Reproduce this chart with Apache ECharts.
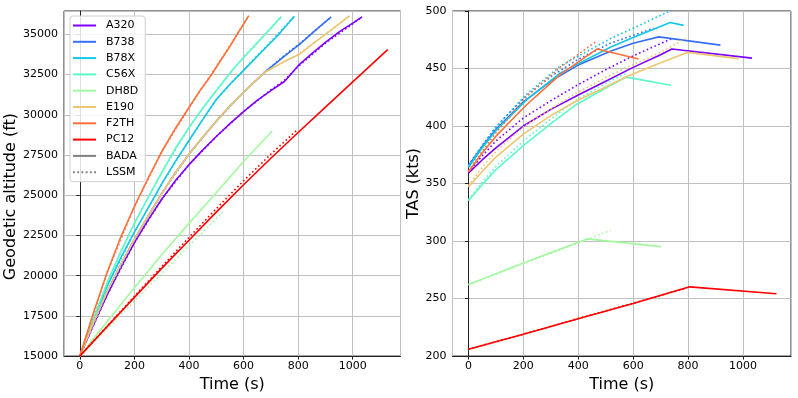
<!DOCTYPE html>
<html><head><meta charset="utf-8">
<script src="https://cdn.jsdelivr.net/npm/echarts/dist/echarts.min.js"></script>
<style>html,body{margin:0;padding:0;background:#fff}#c{width:798px;height:398px}</style>
</head><body><div id="c"></div>
<script>
// ---------- names & colours ----------
const aircraft = ['A320','B738','B78X','C56X','DH8D','E190','F2TH','PC12'];
const colors = ['#8000ff','#376ff9','#12c7e6','#5bf9c7','#a4f99f','#edc76f','#ff6f39','#ff0000'];

// ---------- altitude (ft) vs time (s), BADA ----------
const A320_alt_t = [0,50,100,150,200,250,300,350,400,450,500,550,600,650,700,750,800,850,900,950,1000,1034];
const A320_alt   = [15000,16950,18800,20500,22050,23450,24750,25900,26900,27800,28650,29450,30200,30900,31500,32070,33050,33800,34500,35150,35700,36080];
const B738_alt_t = [0,50,100,150,200,250,300,350,400,450,500,550,600,650,677,750,805,860,921];
const B738_alt   = [15000,17100,19000,20700,22250,23700,25100,26400,27550,28600,29600,30550,31400,32200,32630,33650,34380,35200,36080];
const B78X_alt_t = [0,50,100,150,200,250,300,350,400,450,500,550,600,650,700,731,786];
const B78X_alt   = [15000,17300,19350,21100,22700,24200,25700,27100,28400,29700,30950,31900,32760,33630,34490,35030,36120];
const C56X_alt_t = [0,50,100,150,200,250,300,350,400,450,500,560,600,650,700,738];
const C56X_alt   = [15000,17350,19550,21500,23250,24850,26400,27900,29200,30400,31500,32800,33540,34460,35380,36100];
const DH8D_alt_t = [0,100,200,300,400,500,600,705];
const DH8D_alt   = [15000,17150,19250,21300,23250,25150,27100,28990];
const E190_alt_t = [0,50,100,150,200,250,300,350,400,450,500,550,600,650,677,720,760,805,870,930,988];
const E190_alt   = [15000,17100,19000,20700,22250,23700,25100,26400,27550,28600,29600,30550,31400,32200,32630,33050,33400,33760,34620,35390,36140];
const F2TH_alt_t = [0,50,100,150,200,250,300,350,400,440,475,550,619];
const F2TH_alt   = [15000,17700,20200,22400,24300,26050,27700,29150,30450,31500,32300,34250,36160];
const PC12_alt_t = [0,100,200,300,400,500,600,700,800,900,1000,1128];
const PC12_alt   = [15000,16830,18650,20450,22200,23950,25650,27300,28900,30480,32040,34050];

// ---------- altitude, LSSM ----------
const A320_altL_t = [0,100,200,300,400,500,600,700,750,800,900,1000,1034];
const A320_altL   = [15000,18800,22050,24750,26900,28650,30200,31550,32150,33000,34450,35650,36080];
const B738_altL_t = [0,100,200,300,400,500,600,677,750,805,921];
const B738_altL   = [15000,19000,22250,25100,27550,29600,31400,32650,33700,34420,36080];
const B78X_altL_t = [0,100,200,300,400,500,600,700,786];
const B78X_altL   = [15000,19350,22700,25700,28400,30950,32800,34550,36120];
const C56X_altL_t = [0,100,200,300,400,500,600,700,738];
const C56X_altL   = [15000,19550,23250,26400,29200,31550,33600,35400,36100];
const DH8D_altL_t = [0,100,200,300,400,524];
const DH8D_altL   = [15000,16700,18420,20130,21850,23950];
const E190_altL_t = [0,100,200,300,400,500,600,677,805,988];
const E190_altL   = [15000,19000,22250,25100,27550,29600,31400,32650,33800,36140];
const F2TH_altL_t = [0,100,200,300,400,475,550,619];
const F2TH_altL   = [15000,20200,24300,27700,30450,32350,34300,36160];
const PC12_altL_t = [0,100,200,300,400,500,600,700,795];
const PC12_altL   = [15000,16870,18720,20560,22380,24160,25900,27550,29040];

// ---------- TAS (kts) vs time (s), BADA ----------
const A320_tas_t = [0,50,100,200,300,400,500,600,700,741,1033];
const A320_tas   = [359,370.5,381,400,414.5,427,439,451,462,467,459];
const B738_tas_t = [0,50,100,200,300,400,517,600,693,918];
const B738_tas   = [365.5,382,397,421,439,453,465,472,477.5,470.3];
const B78X_tas_t = [0,50,100,213,334,517,600,735,784];
const B78X_tas   = [364,381,396,423,446,468.5,477,490,487.5];
const C56X_tas_t = [0,50,100,200,300,395,500,575,738];
const C56X_tas   = [335,349,362,383,402,419,433,442.5,435.5];
const DH8D_tas_t = [0,200,432,702];
const DH8D_tas   = [262.2,281,301.9,295.2];
const E190_tas_t = [0,50,100,200,300,395,500,577,700,798,984];
const E190_tas   = [347,360.5,373,393,409,422,434,443,455,464,458.6];
const F2TH_tas_t = [0,50,100,150,213,334,469,620];
const F2TH_tas   = [360,376.5,391,403.5,418.7,444.7,467,458.3];
const PC12_tas_t = [0,200,400,600,806,1122];
const PC12_tas   = [206,219,232.5,245.8,260.2,254.2];

// ---------- TAS, LSSM ----------
const A320_tasL_t = [0,50,100,200,300,400,500,600,741];
const A320_tasL   = [360,374,387,407,422,436,449,461,476];
const B738_tasL_t = [0,50,100,200,300,400,517,674];
const B738_tasL   = [366,383,399,424,443,458,472,485];
const B78X_tasL_t = [0,50,100,213,334,517,600,729];
const B78X_tasL   = [365,383,399,428,452,476,485,499.5];
const C56X_tasL_t = [0,50,100,200,300,395,500,575];
const C56X_tasL   = [336,351,365,387,406,423,437,446];
const DH8D_tasL_t = [0,200,432,517];
const DH8D_tasL   = [262,280.5,301.3,309.3];
const E190_tasL_t = [0,50,100,200,300,395,500,577,700,790];
const E190_tasL   = [348,364,378,399,415,429,442,451,464,476];
const F2TH_tasL_t = [0,50,100,150,213,334,468];
const F2TH_tasL   = [361,378,394,408,426,451,474];
const PC12_tasL_t = [0,200,400,600,793];
const PC12_tasL   = [206,219,232.7,246,259];

const altB = {A320:[A320_alt_t,A320_alt],B738:[B738_alt_t,B738_alt],B78X:[B78X_alt_t,B78X_alt],C56X:[C56X_alt_t,C56X_alt],DH8D:[DH8D_alt_t,DH8D_alt],E190:[E190_alt_t,E190_alt],F2TH:[F2TH_alt_t,F2TH_alt],PC12:[PC12_alt_t,PC12_alt]};
const altL = {A320:[A320_altL_t,A320_altL],B738:[B738_altL_t,B738_altL],B78X:[B78X_altL_t,B78X_altL],C56X:[C56X_altL_t,C56X_altL],DH8D:[DH8D_altL_t,DH8D_altL],E190:[E190_altL_t,E190_altL],F2TH:[F2TH_altL_t,F2TH_altL],PC12:[PC12_altL_t,PC12_altL]};
const tasB = {A320:[A320_tas_t,A320_tas],B738:[B738_tas_t,B738_tas],B78X:[B78X_tas_t,B78X_tas],C56X:[C56X_tas_t,C56X_tas],DH8D:[DH8D_tas_t,DH8D_tas],E190:[E190_tas_t,E190_tas],F2TH:[F2TH_tas_t,F2TH_tas],PC12:[PC12_tas_t,PC12_tas]};
const tasL = {A320:[A320_tasL_t,A320_tasL],B738:[B738_tasL_t,B738_tasL],B78X:[B78X_tasL_t,B78X_tasL],C56X:[C56X_tasL_t,C56X_tasL],DH8D:[DH8D_tasL_t,DH8D_tasL],E190:[E190_tasL_t,E190_tasL],F2TH:[F2TH_tasL_t,F2TH_tasL],PC12:[PC12_tasL_t,PC12_tasL]};

function pairs(a){ return a[0].map((t,i)=>[t,a[1][i]]); }
const FONT = 'DejaVu Sans';
const LW = 1.6;
const DOT = [1.6,2.6];

const series = [];
aircraft.forEach((ac,i)=>{
  const c = colors[i];
  series.push({name:ac,type:'line',xAxisIndex:0,yAxisIndex:0,data:pairs(altB[ac]),symbol:'none',lineStyle:{width:LW,color:c},itemStyle:{color:c}});
  series.push({name:ac+' LSSM',type:'line',xAxisIndex:0,yAxisIndex:0,data:pairs(altL[ac]),symbol:'none',lineStyle:{width:LW,color:c,type:DOT},itemStyle:{color:c}});
  series.push({name:ac,type:'line',xAxisIndex:1,yAxisIndex:1,data:pairs(tasB[ac]),symbol:'none',lineStyle:{width:LW,color:c},itemStyle:{color:c}});
  series.push({name:ac+' LSSM',type:'line',xAxisIndex:1,yAxisIndex:1,data:pairs(tasL[ac]),symbol:'none',lineStyle:{width:LW,color:c,type:DOT},itemStyle:{color:c}});
});
series.push({name:'BADA',type:'line',xAxisIndex:0,yAxisIndex:0,data:[],symbol:'none',lineStyle:{width:LW,color:'#808080'},itemStyle:{color:'#808080'}});
series.push({name:'LSSM',type:'line',xAxisIndex:0,yAxisIndex:0,data:[],symbol:'none',lineStyle:{width:LW,color:'#808080',type:DOT},itemStyle:{color:'#808080'}});

const noComma = v => String(v);
function xAx(gi){
  return {type:'value',gridIndex:gi,min:-58,max:1175,splitNumber:6,
    name:'Time (s)',nameLocation:'middle',nameGap:17,nameTextStyle:{fontFamily:FONT,fontSize:16,color:'#000'},
    axisLine:{lineStyle:{color:'#222',width:1}},axisTick:{show:true,length:3.5,lineStyle:{color:'#222'}},
    axisLabel:{fontFamily:FONT,fontSize:11,color:'#000',margin:5,showMinLabel:false,showMaxLabel:false,formatter:noComma},
    splitLine:{show:true,lineStyle:{color:'#c0c0c0',width:1}}};
}
const solidIcon = 'rect';
const dotIcon = 'path://M0,0h2v2h-2zM4.5,0h2v2h-2zM9,0h2v2h-2zM13.5,0h2v2h-2zM18,0h2v2h-2zM22.5,0h2v2h-2z';
const legendData = aircraft.concat(['BADA']).map(n=>({name:n,icon:solidIcon})).concat([{name:'LSSM',icon:dotIcon}]);

const option = {
  backgroundColor:'#fff',
  animation:false,
  grid:[
    {left:64,top:11,width:336.5,height:346,show:true,borderColor:'#222',borderWidth:1,containLabel:false},
    {left:452.5,top:11,width:338.5,height:346,show:true,borderColor:'#222',borderWidth:1,containLabel:false}
  ],
  xAxis:[xAx(0),xAx(1)],
  yAxis:[
    {type:'value',gridIndex:0,min:15000,max:36450,interval:2500,
     name:'Geodetic altitude (ft)',nameLocation:'middle',nameGap:37,nameRotate:90,
     nameTextStyle:{fontFamily:FONT,fontSize:16,color:'#000',padding:[0,26,0,0]},
     axisLine:{show:true,lineStyle:{color:'#222'}},axisTick:{show:true,length:3.5,lineStyle:{color:'#222'}},
     axisLabel:{fontFamily:FONT,fontSize:11,color:'#000',margin:6,showMaxLabel:false,formatter:noComma},
     splitLine:{show:true,lineStyle:{color:'#c0c0c0',width:1}}},
    {type:'value',gridIndex:1,min:200,max:500,interval:50,
     name:'TAS (kts)',nameLocation:'middle',nameGap:24,nameRotate:90,nameTextStyle:{fontFamily:FONT,fontSize:16,color:'#000'},
     axisLine:{show:true,lineStyle:{color:'#222'}},axisTick:{show:true,length:3.5,lineStyle:{color:'#222'}},
     axisLabel:{fontFamily:FONT,fontSize:11,color:'#000',margin:6,formatter:noComma},
     splitLine:{show:true,lineStyle:{color:'#c0c0c0',width:1}}}
  ],
  legend:{
    data:legendData,
    orient:'vertical',left:70,top:16,
    itemWidth:23,itemHeight:2,itemGap:5.3,symbolKeepAspect:false,
    padding:[4,7,4,3],
    backgroundColor:'rgba(255,255,255,0.85)',borderColor:'#d0d0d0',borderWidth:1,borderRadius:3,
    textStyle:{fontFamily:FONT,fontSize:11,color:'#000',padding:[0,0,0,5]}
  },
  series:series
};
const chart = echarts.init(document.getElementById('c'),null,{renderer:'canvas'});
chart.setOption(option);
</script></body></html>
